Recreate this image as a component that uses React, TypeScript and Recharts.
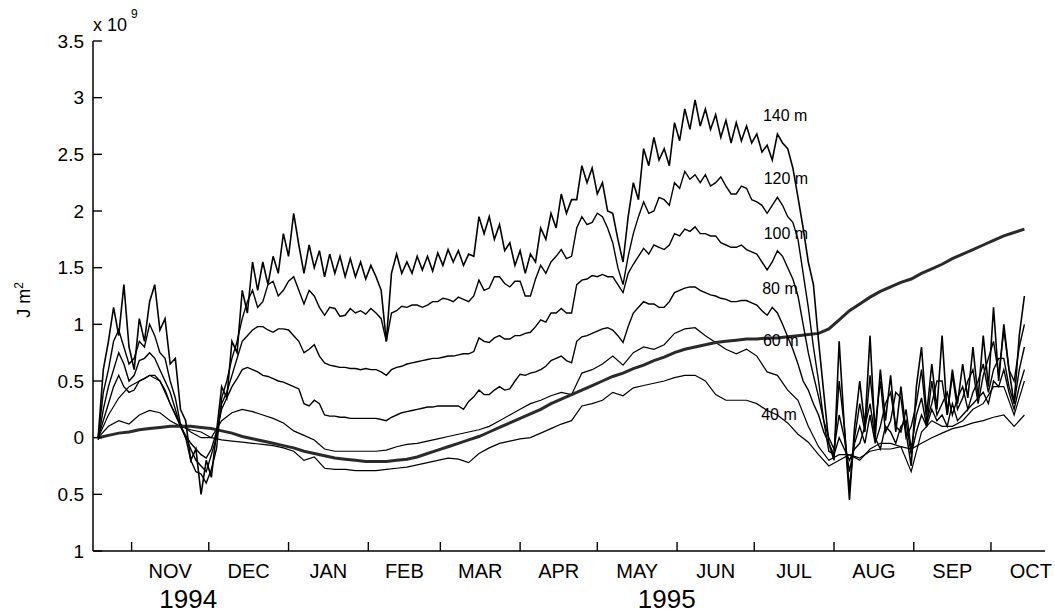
import { LineChart, Line, XAxis, YAxis, ReferenceDot } from 'recharts';

// day 0 = 1 Nov 1994
// the noisy upper levels are read every 2 days, the smoother ones every 4 days
const FINE_DAY0 = -13;
const FINE_STEP = 2;
const COARSE_DAY0 = -13;
const COARSE_STEP = 4;

const monthStarts = [0, 30, 61, 92, 120, 151, 181, 212, 242, 273, 304, 334];
const monthMids = [15, 45.5, 76.5, 106, 135.5, 166, 196.5, 227, 257.5, 288.5, 319, 349.5];
const monthNames = ['NOV', 'DEC', 'JAN', 'FEB', 'MAR', 'APR', 'MAY', 'JUN', 'JUL', 'AUG', 'SEP', 'OCT'];
const yearDays = [22, 208];
const yearNames = ['1994', '1995'];

const yTicks = [-1, -0.5, 0, 0.5, 1, 1.5, 2, 2.5, 3, 3.5];

// heat content, x 10^9 J m^-2
const depth140 = [
  0.0, 0.6, 0.85, 1.15, 0.9, 1.35, 0.8, 0.6, 1.05, 0.85,
  1.2, 1.35, 0.95, 1.05, 0.65, 0.7, 0.25, 0.15, -0.2, -0.1,
  -0.5, -0.2, -0.35, 0.05, 0.45, 0.35, 0.85, 0.75, 1.3, 1.1,
  1.55, 1.3, 1.55, 1.35, 1.6, 1.45, 1.8, 1.6, 1.98, 1.7,
  1.45, 1.7, 1.5, 1.65, 1.42, 1.62, 1.45, 1.6, 1.42, 1.58,
  1.42, 1.55, 1.4, 1.52, 1.42, 1.3, 0.85, 1.45, 1.62, 1.45,
  1.55, 1.45, 1.6, 1.48, 1.6, 1.47, 1.63, 1.52, 1.66, 1.55,
  1.65, 1.52, 1.62, 1.6, 1.95, 1.8, 1.95, 1.75, 1.88, 1.65,
  1.72, 1.52, 1.65, 1.45, 1.62, 1.55, 1.85, 1.75, 1.98, 1.85,
  2.15, 1.98, 2.1, 2.1, 2.4, 2.25, 2.38, 2.15, 2.25, 2.0,
  1.98, 1.75, 1.55, 1.95, 2.25, 2.1, 2.55, 2.4, 2.65, 2.45,
  2.55, 2.4, 2.78, 2.62, 2.9, 2.72, 2.98, 2.75, 2.9, 2.72,
  2.85, 2.65, 2.8, 2.6, 2.78, 2.62, 2.75, 2.6, 2.68, 2.52,
  2.58, 2.45, 2.68, 2.6, 2.55, 2.38, 2.12, 1.85, 1.55, 1.35,
  0.85, 0.4, -0.05, -0.2, 0.85, 0.1, -0.55, 0.1, 0.5, 0.1,
  0.9, 0.0, 0.6, 0.15, 0.55, 0.05, 0.45, 0.05, -0.25, 0.45,
  0.8, 0.2, 0.65, 0.25, 0.9, 0.2, 0.6, 0.3, 0.65, 0.35,
  0.8, 0.35, 0.9, 0.45, 1.15, 0.5, 1.0, 0.6, 0.3, 0.9,
  1.25,
];
const depth120 = [
  0.0, 0.4, 0.6, 0.85, 0.95, 0.8, 0.65, 0.7, 0.85, 0.8,
  1.0, 0.9, 0.75, 0.7, 0.5, 0.35, 0.12, 0.0, -0.2, -0.3,
  -0.32, -0.4, -0.28, -0.1, 0.35, 0.5, 0.7, 0.85, 1.05, 1.2,
  1.3, 1.15, 1.2, 1.35, 1.38, 1.25, 1.3, 1.38, 1.42, 1.3,
  1.18, 1.3, 1.25, 1.15, 1.08, 1.15, 1.14, 1.07, 1.08, 1.14,
  1.1, 1.12, 1.09, 1.14, 1.1, 1.05, 0.85, 1.1, 1.12, 1.16,
  1.15, 1.17, 1.17, 1.15, 1.17, 1.2, 1.2, 1.23, 1.22, 1.2,
  1.24, 1.22, 1.2, 1.25, 1.39, 1.3, 1.32, 1.42, 1.42, 1.36,
  1.33, 1.38, 1.38, 1.25, 1.25, 1.4, 1.52, 1.45, 1.55, 1.6,
  1.66, 1.58, 1.6, 1.85, 1.95, 1.88, 1.9, 1.98, 1.95, 1.85,
  1.72, 1.5, 1.35, 1.6, 1.8, 1.95, 2.08, 1.98, 2.0, 2.12,
  2.1, 2.05, 2.25, 2.2, 2.35, 2.28, 2.32, 2.25, 2.32, 2.22,
  2.25, 2.3, 2.22, 2.15, 2.15, 2.22, 2.2, 2.1, 2.08, 2.05,
  1.98, 2.05, 2.12, 2.05, 1.95, 1.9, 1.75, 1.45, 1.15, 0.8,
  0.5, 0.15, -0.12, -0.15, 0.5, 0.1, -0.45, 0.0, 0.3, 0.05,
  0.55, 0.1, 0.5, 0.05, 0.15, 0.4, 0.35, 0.0, 0.1, 0.3,
  0.6, 0.15, 0.3, 0.5, 0.5, 0.2, 0.55, 0.25, 0.35, 0.5,
  0.6, 0.3, 0.55, 0.7, 0.85, 0.55, 0.95, 0.6, 0.5, 0.8,
  1.0,
];
const depth100 = [
  -0.02, 0.25, 0.45, 0.6, 0.75, 0.65, 0.5, 0.55, 0.68, 0.7,
  0.75, 0.7, 0.6, 0.5, 0.4, 0.25, 0.1, 0.0, -0.1, -0.2,
  -0.25, -0.3, -0.15, 0.0, 0.3, 0.4, 0.55, 0.7, 0.85, 0.9,
  0.95, 0.98, 0.98, 0.95, 0.93, 0.96, 0.96, 0.95, 0.9, 0.85,
  0.75, 0.78, 0.82, 0.72, 0.66, 0.64, 0.63, 0.62, 0.62, 0.61,
  0.61, 0.6, 0.61, 0.6, 0.6, 0.58, 0.55, 0.6, 0.62, 0.63,
  0.65, 0.66, 0.67, 0.68, 0.69, 0.7, 0.7, 0.71, 0.72, 0.72,
  0.73, 0.74, 0.74, 0.76, 0.88, 0.85, 0.84, 0.88, 0.9, 0.87,
  0.87, 0.9, 0.9, 0.92, 0.93, 0.98, 1.04, 1.02, 1.1, 1.1,
  1.14, 1.1, 1.1, 1.35, 1.39, 1.4, 1.43, 1.42, 1.44, 1.42,
  1.42, 1.35, 1.28, 1.45, 1.53, 1.6, 1.67, 1.62, 1.7, 1.68,
  1.66, 1.7, 1.8, 1.78, 1.84, 1.82, 1.86, 1.8, 1.8, 1.78,
  1.78, 1.72, 1.7, 1.68, 1.68, 1.7, 1.66, 1.64, 1.62, 1.55,
  1.48, 1.55, 1.65, 1.6, 1.5, 1.4, 1.25, 1.0, 0.75, 0.55,
  0.36, 0.15, 0.0, -0.1, 0.2, 0.0, -0.3, -0.05, 0.1, -0.05,
  0.2, -0.05, 0.1, 0.3, 0.4, 0.1, 0.05, 0.25, -0.1, 0.2,
  0.35, 0.1, 0.5, 0.2, 0.3, 0.4, 0.2, 0.35, 0.45, 0.25,
  0.4, 0.5, 0.65, 0.4, 0.6, 0.7, 0.7, 0.45, 0.3, 0.6,
  0.8,
];
const depth80 = [
  0.0, 0.15, 0.3, 0.45, 0.55, 0.45, 0.4, 0.42, 0.5, 0.52,
  0.55, 0.55, 0.5, 0.42, 0.3, 0.2, 0.1, 0.02, -0.05, -0.1,
  -0.15, -0.18, -0.1, 0.05, 0.25, 0.35, 0.45, 0.52, 0.6, 0.62,
  0.6, 0.58, 0.55, 0.54, 0.52, 0.5, 0.49, 0.47, 0.45, 0.43,
  0.3, 0.28, 0.33, 0.3, 0.2, 0.19, 0.19, 0.18, 0.18, 0.17,
  0.17, 0.17, 0.17, 0.17, 0.17, 0.16, 0.15, 0.18, 0.2, 0.22,
  0.23, 0.24, 0.25, 0.26, 0.27, 0.27, 0.28, 0.28, 0.28, 0.28,
  0.28, 0.25, 0.32, 0.36, 0.42, 0.38, 0.38, 0.42, 0.45, 0.42,
  0.43, 0.5, 0.56, 0.55, 0.57, 0.58, 0.6, 0.63, 0.68, 0.7,
  0.72, 0.68, 0.66, 0.85, 0.89, 0.9, 0.92, 0.94, 0.96, 0.97,
  0.95, 0.9, 0.84, 0.98, 1.1, 1.15, 1.2, 1.18, 1.18, 1.15,
  1.15, 1.2, 1.28, 1.3, 1.32, 1.33, 1.33, 1.3, 1.28, 1.26,
  1.25, 1.23, 1.22, 1.2, 1.2, 1.21, 1.21, 1.19, 1.17, 1.12,
  1.08, 1.15, 1.1, 1.0, 0.89, 0.78, 0.65, 0.5, 0.42, 0.3,
  0.2, 0.05, -0.05, -0.15, 0.0, -0.1, -0.2, -0.1, -0.05, 0.1,
  0.3, 0.0, -0.1, 0.1, 0.05, -0.05, 0.1, 0.15, -0.15, 0.05,
  0.2, 0.1, 0.25, 0.15, 0.2, 0.1, 0.3, 0.15, 0.2, 0.25,
  0.3, 0.35, 0.4, 0.3, 0.5, 0.45, 0.6, 0.4, 0.25, 0.45,
  0.6,
];
const depth60 = [
  0.0, 0.2, 0.35, 0.45, 0.5, 0.55, 0.5, 0.3, 0.12, 0.05, 0.0, 0.0,
  0.15, 0.22, 0.25, 0.23, 0.2, 0.17, 0.13, 0.06, 0.02, -0.02,
  -0.1, -0.12, -0.12, -0.12, -0.12, -0.12, -0.11, -0.08, -0.06, -0.05,
  -0.03, -0.01, 0.01, 0.03, 0.05, 0.07, 0.1, 0.15, 0.2, 0.25,
  0.3, 0.33, 0.37, 0.4, 0.38, 0.57, 0.6, 0.65, 0.72, 0.64,
  0.75, 0.8, 0.78, 0.82, 0.92, 0.96, 0.97, 0.9, 0.84, 0.78,
  0.74, 0.78, 0.72, 0.58, 0.55, 0.42, 0.33, 0.1, -0.08, -0.2,
  -0.15, -0.15, -0.2, -0.1, -0.05, -0.05, -0.08, -0.3, 0.05, 0.15,
  0.1, 0.1, 0.15, 0.25, 0.3, 0.45, 0.45, 0.2, 0.5,
];
const depth40 = [
  0.0, 0.1, 0.15, 0.12, 0.2, 0.24, 0.22, 0.15, 0.1, 0.07, 0.05, 0.0,
  -0.02, -0.03, -0.04, -0.05, -0.06, -0.07, -0.09, -0.12, -0.2, -0.17,
  -0.27, -0.28, -0.28, -0.29, -0.29, -0.29, -0.28, -0.27, -0.26, -0.24,
  -0.22, -0.2, -0.18, -0.19, -0.22, -0.14, -0.09, -0.05, -0.03, -0.01,
  0.0, 0.04, 0.08, 0.12, 0.15, 0.28, 0.3, 0.33, 0.4, 0.37,
  0.44, 0.46, 0.48, 0.5, 0.53, 0.55, 0.55, 0.5, 0.38, 0.33,
  0.33, 0.33, 0.3, 0.24, 0.2, 0.13, 0.03, -0.04, -0.15, -0.25,
  -0.2, -0.15, -0.18, -0.12, -0.1, -0.1, -0.08, -0.1, -0.05, 0.0,
  0.04, 0.08, 0.1, 0.13, 0.15, 0.18, 0.2, 0.1, 0.2,
];
const fluxTotal = [
  0.0, 0.02, 0.04, 0.05, 0.07, 0.08, 0.09, 0.1, 0.1, 0.1, 0.09, 0.08,
  0.06, 0.04, 0.01, -0.01, -0.03, -0.05, -0.07, -0.09, -0.12, -0.14,
  -0.16, -0.18, -0.19, -0.2, -0.21, -0.21, -0.21, -0.2, -0.19, -0.17,
  -0.14, -0.11, -0.08, -0.05, -0.02, 0.01, 0.05, 0.09, 0.13, 0.17,
  0.21, 0.25, 0.3, 0.34, 0.38, 0.42, 0.46, 0.5, 0.54, 0.57,
  0.61, 0.64, 0.68, 0.71, 0.75, 0.78, 0.8, 0.82, 0.84, 0.85,
  0.86, 0.87, 0.87, 0.88, 0.88, 0.89, 0.9, 0.91, 0.92, 0.96,
  1.04, 1.12, 1.18, 1.24, 1.29, 1.33, 1.37, 1.4, 1.45, 1.49,
  1.53, 1.58, 1.62, 1.66, 1.7, 1.74, 1.78, 1.81, 1.84,
];

const depthNames = ['140 m', '120 m', '100 m', '80 m', '60 m', '40 m'];
const labelDays = [254, 254.3, 254.3, 252, 252.3, 251.6];
const labelVals = [2.84, 2.29, 1.8, 1.32, 0.855, 0.21];

const toPoints = (vals: number[], day0: number, step: number) =>
  vals.map((v, i) => ({ day: day0 + i * step, v }));

const fineSeries = [depth140, depth120, depth100, depth80].map((s) => toPoints(s, FINE_DAY0, FINE_STEP));
const coarseSeries = [depth60, depth40].map((s) => toPoints(s, COARSE_DAY0, COARSE_STEP));
const fluxPoints = toPoints(fluxTotal, COARSE_DAY0, COARSE_STEP);

const FONT = '"Liberation Sans", Arial, Helvetica, sans-serif';
const xTicks = [...monthStarts, ...monthMids, ...yearDays].sort((a, b) => a - b);

function MonthTick(props: any) {
  const { x, y, payload } = props;
  const v = payload.value;
  if (monthStarts.includes(v)) {
    return <line x1={x} x2={x} y1={y} y2={y - 9} stroke="#000" strokeWidth={1.4} />;
  }
  const mi = monthMids.indexOf(v);
  if (mi >= 0) {
    return (
      <text x={x} y={y + 27} textAnchor="middle" fontSize={20} fontFamily={FONT} fill="#000">
        {monthNames[mi]}
      </text>
    );
  }
  const yi = yearDays.indexOf(v);
  if (yi >= 0) {
    return (
      <text x={x} y={y + 57} textAnchor="middle" fontSize={26} fontFamily={FONT} fill="#000">
        {yearNames[yi]}
      </text>
    );
  }
  return null;
}

function ValueTick(props: any) {
  const { x, y, payload } = props;
  const v = payload.value;
  // the printed axis shows magnitudes only
  const txt = String(Math.abs(v));
  return (
    <g>
      <line x1={x} x2={x + 9} y1={y} y2={y} stroke="#000" strokeWidth={1.4} />
      <text x={x - 9} y={y} dy="0.35em" textAnchor="end" fontSize={19} fontFamily={FONT} fill="#000">
        {txt}
      </text>
    </g>
  );
}

export default function App() {
  return (
    <div style={{ position: 'absolute', left: 0, top: 0, width: 1055, height: 615, background: '#fff' }}>
      <LineChart width={1055} height={615} margin={{ top: 41, right: 10, bottom: 34, left: 33 }}>
        <XAxis
          type="number"
          dataKey="day"
          domain={[-15, 355]}
          allowDataOverflow
          ticks={xTicks}
          interval={0}
          tickSize={0}
          tickMargin={0}
          tickLine={false}
          axisLine={{ stroke: '#000', strokeWidth: 1.5 }}
          tick={<MonthTick />}
          height={30}
        />
        <YAxis
          type="number"
          domain={[-1, 3.5]}
          allowDataOverflow
          ticks={yTicks}
          interval={0}
          tickSize={0}
          tickMargin={0}
          tickLine={false}
          axisLine={{ stroke: '#000', strokeWidth: 1.5 }}
          tick={<ValueTick />}
          width={60}
        />
        {coarseSeries.map((pts, i) => (
          <Line
            key={'c' + i}
            data={pts}
            type="linear"
            dataKey="v"
            stroke="#000"
            strokeWidth={1.2}
            dot={false}
            isAnimationActive={false}
          />
        ))}
        <Line
          data={fluxPoints}
          type="linear"
          dataKey="v"
          stroke="#2a2a2a"
          strokeWidth={3}
          dot={false}
          isAnimationActive={false}
        />
        {fineSeries.map((pts, i) => (
          <Line
            key={'f' + i}
            data={pts}
            type="linear"
            dataKey="v"
            stroke="#000"
            strokeWidth={i === 0 ? 1.6 : 1.4}
            strokeLinejoin="miter"
            dot={false}
            isAnimationActive={false}
          />
        ))}
        {depthNames.map((n, i) => (
          <ReferenceDot
            key={n}
            x={labelDays[i]}
            y={labelVals[i]}
            r={0}
            fill="none"
            stroke="none"
            label={{ value: n, position: 'center', fontSize: 16, fill: '#000', fontFamily: FONT }}
          />
        ))}
      </LineChart>
      <svg width={1055} height={615} style={{ position: 'absolute', left: 0, top: 0, pointerEvents: 'none' }}>
        <text x={93} y={31} fontSize={18} fontFamily={FONT} fill="#000">x 10</text>
        <text x={131} y={18} fontSize={12} fontFamily={FONT} fill="#000">9</text>
        <g transform="translate(30 300) rotate(-90)">
          <text x={0} y={0} textAnchor="middle" fontSize={18} fontFamily={FONT} fill="#000">
            J m<tspan dy={-7} fontSize={12}>2</tspan>
          </text>
        </g>
      </svg>
    </div>
  );
}
